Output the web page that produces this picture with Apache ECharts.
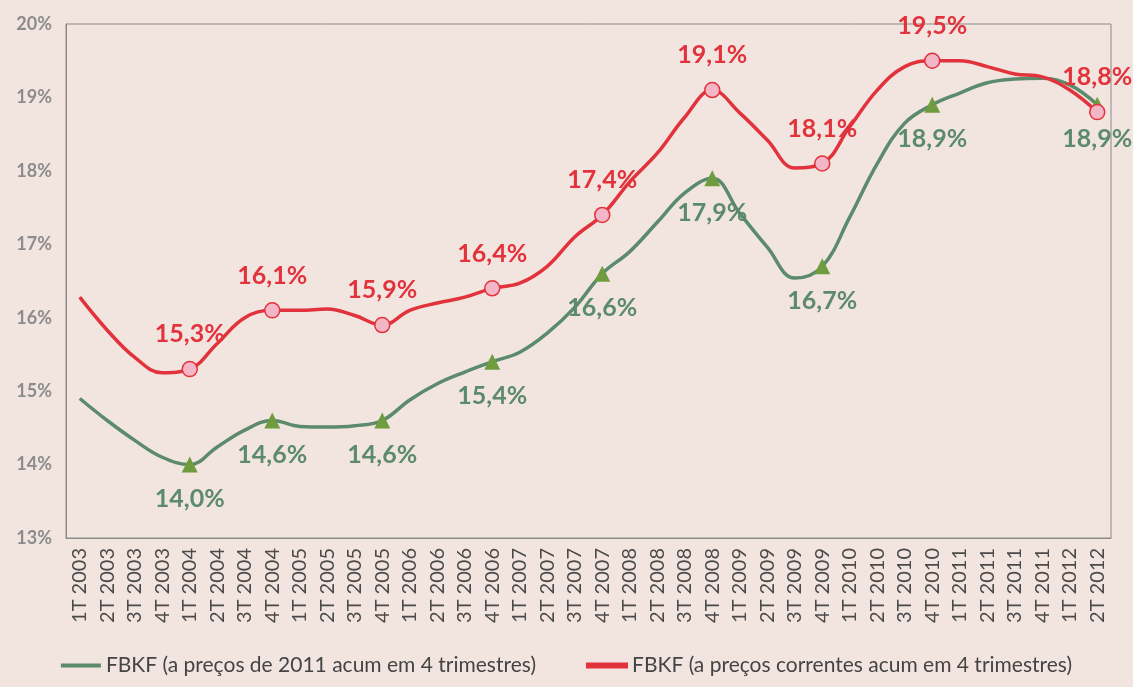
<!DOCTYPE html>
<html><head><meta charset="utf-8">
<script src="https://cdn.jsdelivr.net/npm/echarts@6/dist/echarts.min.js"></script>
<style>html,body{margin:0;padding:0;background:#f2e5e0;}#c{width:1133px;height:687px;}</style>
</head><body><div id="c"></div>
<script>
const categories = ['1T 2003','2T 2003','3T 2003','4T 2003','1T 2004','2T 2004','3T 2004','4T 2004','1T 2005','2T 2005','3T 2005','4T 2005','1T 2006','2T 2006','3T 2006','4T 2006','1T 2007','2T 2007','3T 2007','4T 2007','1T 2008','2T 2008','3T 2008','4T 2008','1T 2009','2T 2009','3T 2009','4T 2009','1T 2010','2T 2010','3T 2010','4T 2010','1T 2011','2T 2011','3T 2011','4T 2011','1T 2012','2T 2012'];
const seriesNames = ['FBKF (a preços de 2011 acum em 4 trimestres)','FBKF (a preços correntes acum em 4 trimestres)'];
const constantPrices = [14.9,14.6,14.33,14.1,14.0,14.24,14.47,14.6,14.52,14.51,14.53,14.6,14.88,15.1,15.26,15.4,15.53,15.79,16.14,16.6,16.9,17.3,17.7,17.9,17.42,16.96,16.54,16.7,17.37,18.1,18.65,18.9,19.06,19.2,19.25,19.26,19.17,18.9];
const currentPrices = [16.28,15.83,15.46,15.25,15.3,15.65,16.0,16.1,16.1,16.12,16.03,15.9,16.1,16.2,16.28,16.4,16.47,16.7,17.1,17.4,17.85,18.24,18.73,19.1,18.79,18.42,18.04,18.1,18.6,19.1,19.42,19.5,19.5,19.42,19.32,19.28,19.1,18.8];
const labeledIdx = [4,7,11,15,19,23,27,31,37];
const yTicks = {min:13, max:20, interval:1};

const FONT = 'Lato';
const GREEN = '#5b8a6c', RED = '#e2323c';
function fmt(v){ return v.toFixed(1).replace('.', ',') + '%'; }
function build(vals, marker){
  return vals.map((v,i)=>{
    if (labeledIdx.indexOf(i) >= 0) return {value:v, symbol:marker.symbol, symbolSize:marker.size, label:{show:true}};
    return {value:v, symbol:'none'};
  });
}
const chart = echarts.init(document.getElementById('c'));
chart.setOption({
  backgroundColor:'#f2e5e0',
  animation:false,
  grid:{left:66,right:22,top:24,bottom:149,show:true,borderColor:'#8a8a8a',borderWidth:1,backgroundColor:'transparent'},
  legend:{bottom:6,left:'center',itemGap:50,itemWidth:40,itemHeight:4,icon:'rect',
    textStyle:{fontFamily:FONT,fontSize:21,color:'#444'},
    data:[{name:seriesNames[0],itemStyle:{color:GREEN}},{name:seriesNames[1],itemStyle:{color:RED}}]},
  xAxis:{type:'category',data:categories,boundaryGap:true,
    axisLine:{lineStyle:{color:'#8a8a8a'}},axisTick:{show:false},
    axisLabel:{rotate:90,interval:0,fontFamily:FONT,fontSize:20,color:'#4a4a4a',margin:10}},
  yAxis:{type:'value',min:yTicks.min,max:yTicks.max,interval:yTicks.interval,
    axisLine:{show:true,lineStyle:{color:'#8a8a8a'}},axisTick:{show:false},splitLine:{show:false},
    axisLabel:{formatter:'{value}%',fontFamily:FONT,fontSize:18,fontWeight:'bold',color:'#8c8c8c',margin:14}},
  series:[
    {name:seriesNames[0],type:'line',smooth:0.4,data:build(constantPrices,{symbol:'triangle',size:16}),
     lineStyle:{color:GREEN,width:3.5},itemStyle:{color:'#6f9c3e',borderWidth:0},
     label:{position:'bottom',distance:14,fontFamily:FONT,fontSize:25,fontWeight:'bold',color:GREEN,formatter:p=>fmt(p.value)},
     z:2},
    {name:seriesNames[1],type:'line',smooth:0.4,data:build(currentPrices,{symbol:'circle',size:15}),
     lineStyle:{color:RED,width:3.5},itemStyle:{color:'#f2b6c6',borderColor:RED,borderWidth:1.5},
     label:{position:'top',distance:14,fontFamily:FONT,fontSize:25,fontWeight:'bold',color:RED,formatter:p=>fmt(p.value)},
     z:3}
  ]
});
</script></body></html>
